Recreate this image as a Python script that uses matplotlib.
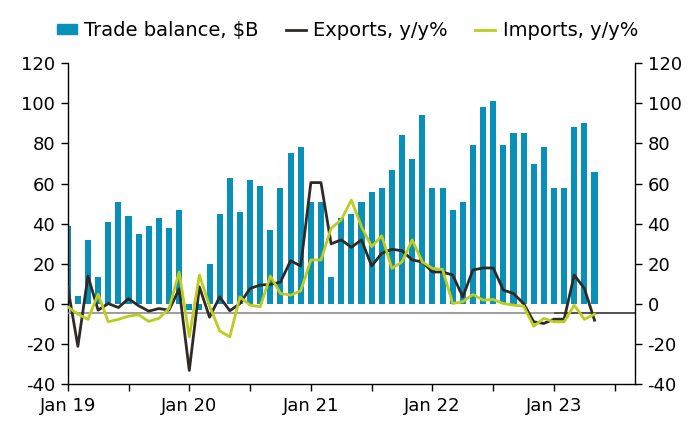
import numpy as np
import matplotlib.pyplot as plt
from matplotlib.patches import Patch
from matplotlib.lines import Line2D

plt.rcParams['font.family'] = ['DejaVu Sans']
plt.rcParams['axes.unicode_minus'] = False

# monthly, Jan 2019 - May 2023
trade_balance = [39, 4, 32, 13.5, 41, 51, 44, 35, 39, 43, 38, 47,
                 -3, -3, 20, 45, 63, 46, 62, 59, 37, 58, 75, 78,
                 51, 51, 13.6, 43, 45, 51, 56, 58, 67, 84, 72, 94,
                 58, 58, 47, 51, 79, 98, 101, 79, 85, 85, 70, 78,
                 58, 58, 88, 90, 66]
exports = [8.6, -21, 14, -3, 0.3, -1.7, 2.7, -0.8, -3.5, -2.2, -3, 7.6,
           -33, 8.6, -6.5, 3.6, -3.3, 0.3, 7.8, 9.5, 9.8, 11, 21.6, 19,
           60.5, 60.5, 30, 32, 28.3, 32, 19, 25.3, 27.3, 26.6, 22, 21,
           16, 16, 14.5, 3.6, 17, 18, 18, 7, 5.3, 0.3, -8.8, -9.6,
           -7.5, -7.5, 14.5, 7.8, -8]
imports = [-1.3, -5, -7.6, 5, -8.8, -7.6, -6, -5.3, -8.6, -7.1, -2.2, 16,
           -16.3, 14.5, -1, -13.3, -16.3, 3.6, -0.5, -1.3, 14, 5.3, 4.5, 6.6,
           22, 22, 37.7, 42, 51.8, 38.5, 28.6, 34, 17.8, 21, 32, 21,
           17.8, 17.3, 0.3, 1.2, 4.8, 2, 2.3, 0.3, -0.5, -1, -11, -7.1,
           -8.8, -8.8, -0.5, -7.6, -5]
year_labels = ['Jan 19', 'Jan 20', 'Jan 21', 'Jan 22', 'Jan 23']

months = np.arange(len(trade_balance))

bar_color = '#0890b8'
exp_color = '#2e2a28'
imp_color = '#bccd1e'

fig = plt.figure(figsize=(6.91, 4.32), dpi=100)
ax = fig.add_axes([0.098, 0.110, 0.821, 0.744])
ax2 = ax.twinx()

ax.bar(months, trade_balance, width=0.6, color=bar_color, zorder=2)

# reference line just below zero
ax2.hlines(-4.2, 0, 48, color='#8c8c8c', lw=1.2, zorder=1)
ax2.hlines(-4.2, 48, 56, color='#333333', lw=1.2, zorder=1)
ax2.plot(months, exports, color=exp_color, lw=2.0, zorder=3)
ax2.plot(months, imports, color=imp_color, lw=2.0, zorder=4)

for a in (ax, ax2):
    a.set_ylim(-40, 120)
    a.set_yticks(range(-40, 121, 20))
    a.set_xlim(0, 56)
    a.spines['top'].set_visible(False)
    for s in a.spines.values():
        s.set_linewidth(1.0)
    a.tick_params(axis='y', length=5, width=1, labelsize=13, pad=4)

ax.spines['right'].set_visible(False)
ax2.spines['left'].set_visible(False)
ax2.spines['bottom'].set_visible(False)

ax.set_xticks(range(0, 49, 12))
ax.set_xticklabels(year_labels)
ax.set_xticks(range(6, 56, 12), minor=True)
ax.tick_params(axis='x', which='both', length=5, width=1, labelsize=13, pad=4)

handles = [Patch(color=bar_color),
           Line2D([], [], color=exp_color, lw=2.0),
           Line2D([], [], color=imp_color, lw=2.0)]
labels = ['Trade balance, $B', 'Exports, y/y%', 'Imports, y/y%']
fig.legend(handles, labels, loc='center', bbox_to_anchor=(0.503, 0.93),
           ncol=3, frameon=False, fontsize=14, handlelength=1.0,
           handleheight=0.42, handletextpad=0.4, columnspacing=1.4)

fig.savefig('out.png', dpi=100)
